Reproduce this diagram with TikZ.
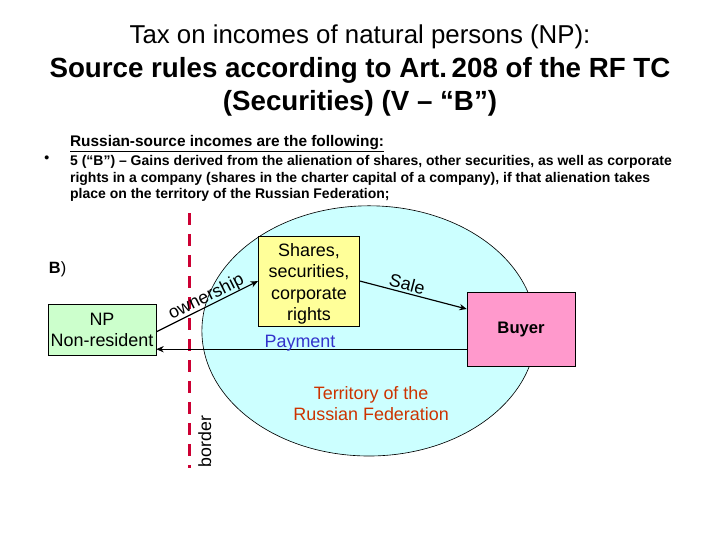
\documentclass[tikz,border=0pt]{standalone}
\usepackage{fontspec}
\setmainfont{Liberation Sans}
\usetikzlibrary{arrows.meta}
\definecolor{npgreen}{HTML}{CCFFCC}
\definecolor{shareyellow}{HTML}{FFFF99}
\definecolor{buyerpink}{HTML}{FF99CC}
\definecolor{landcyan}{HTML}{CCFFFF}
\definecolor{borderred}{HTML}{CC0033}
\definecolor{paytext}{HTML}{3333CC}
\definecolor{landtext}{HTML}{CC3300}
\tikzset{
	partybox/.style={draw=black, line width=0.7pt, minimum width=#1, inner sep=0pt, align=center},
	flowline/.style={line width=1.1pt, -{Stealth[length=7pt,width=6pt]}},
	bodytext/.style={font=\fontsize{13.27}{15.6}\selectfont\bfseries, anchor=north west, align=left, inner sep=0pt},
	boxtext/.style={font=\fontsize{17}{20.3}\selectfont},
}
\begin{document}
\begin{tikzpicture}
	\useasboundingbox (0, 0) rectangle (24, 18);
	
	%%%%% heading %%%%%
	\node[font=\fontsize{24.5}{28}\selectfont] (tax) at (12, 16.76) {Tax on incomes of natural persons (NP):};
	\node[font=\fontsize{26.3}{31.6}\selectfont\bfseries, align=center] (rules) at (12, 15.1) {Source rules according to Art.\,208 of the RF TC\\(Securities) (V -- “B”)};
	
	\node[bodytext, font=\fontsize{14.6}{17}\selectfont\bfseries] (following) at (2.33, 13.5) {\underline{Russian-source incomes are the following:}};
	\node[bodytext] (bullet) at (1.47, 12.82) {•};
	\node[bodytext] (gains) at (2.33, 12.82) {5 (“B”) -- Gains derived from the alienation of shares, other securities, as well as corporate\\rights in a company (shares in the charter capital of a company), if that alienation takes\\place on the territory of the Russian Federation;};
	
	%%%%% territory and border %%%%%
	\draw[fill=landcyan, line width=0.6pt] (12.3, 6.97) ellipse (5.57 and 4.17);
	\draw[borderred, line width=3pt, dash pattern=on 11.2pt off 8.7pt] (6.32, 10.9) -- (6.32, 2.4);
	\node[rotate=90, font=\fontsize{16.8}{18}\selectfont, anchor=south west, inner sep=0pt] (border) at (7.05, 2.42) {border};
	
	%%%%% boxes %%%%%
	\node[font=\fontsize{15.5}{17}\selectfont\bfseries, inner sep=0pt] (b) at (1.92, 9.03) {B\textmd{)}};
	\node[partybox=3.6cm, minimum height=1.7cm, fill=npgreen, boxtext] (np) at (3.4, 7.0) {NP\\Non-resident};
	\node[partybox=3.38cm, minimum height=3cm, fill=shareyellow, boxtext] (shares) at (10.3, 8.63) {\rule{0pt}{17.7pt}Shares,\\securities,\\corporate\\rights};
	\node[partybox=3.6cm, minimum height=2.47cm, fill=buyerpink, font=\fontsize{15.8}{17}\selectfont\bfseries] (buyer) at (17.37, 7.03) {Buyer};
	
	%%%%% connectors %%%%%
	\draw[flowline] ([yshift=-0.06cm]np.east) -- (shares.west) node[pos=0.53, sloped, above=-1.5pt, boxtext, inner sep=1pt] (ownership) {ownership};
	\draw[flowline] (shares.east) -- ([yshift=0.67cm]buyer.west) node[pos=0.42, sloped, above=1pt, boxtext, inner sep=1pt] (sale) {Sale};
	\draw[flowline, line width=0.7pt] ([yshift=-0.67cm]buyer.west) -- ([yshift=-0.67cm]buyer.west -| np.east);
	
	%%%%% labels %%%%%
	\node[paytext, boxtext] (payment) at (10, 6.55) {Payment};
	\node[landtext, boxtext, align=center] (territory) at (12.37, 4.55) {Territory of the\\Russian Federation};
\end{tikzpicture}
\end{document}
